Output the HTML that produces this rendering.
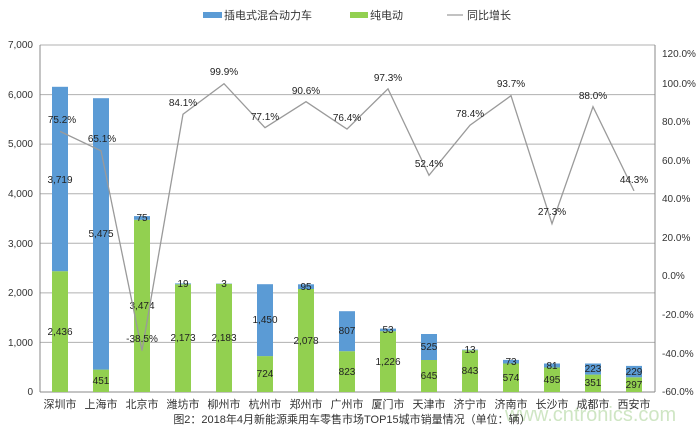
<!DOCTYPE html>
<html><head><meta charset="utf-8"><style>
body{margin:0;background:#fff}
svg{display:block;font-family:"Liberation Sans","Noto Sans CJK SC",sans-serif}
</style></head><body>
<svg width="700" height="428" viewBox="0 0 700 428" xmlns="http://www.w3.org/2000/svg">
<rect width="700" height="428" fill="#fff"/>
<!-- legend -->
<rect x="203" y="12" width="19" height="6" fill="#5b9bd5"/>
<text x="224" y="19" font-size="11" fill="#333">插电式混合动力车</text>
<rect x="350" y="12" width="18" height="6" fill="#92d050"/>
<text x="370" y="19" font-size="11" fill="#333">纯电动</text>
<line x1="447" y1="15" x2="463" y2="15" stroke="#999" stroke-width="1.2"/>
<text x="467" y="19" font-size="11" fill="#333">同比增长</text>
<!-- grid -->
<g stroke="#b0b0b0" stroke-width="1">
<line x1="40" y1="45" x2="655" y2="45"/>
<line x1="40" y1="94.6" x2="655" y2="94.6"/>
<line x1="40" y1="144.1" x2="655" y2="144.1"/>
<line x1="40" y1="193.7" x2="655" y2="193.7"/>
<line x1="40" y1="243.3" x2="655" y2="243.3"/>
<line x1="40" y1="292.9" x2="655" y2="292.9"/>
<line x1="40" y1="342.4" x2="655" y2="342.4"/>
</g>
<g stroke="#888" stroke-width="1">
<line x1="40" y1="45" x2="40" y2="392"/>
<line x1="655" y1="45" x2="655" y2="392"/>
<line x1="40" y1="392" x2="655" y2="392"/>
</g>
<!-- left axis labels -->
<g font-size="10" fill="#333" text-anchor="end">
<text x="33" y="48">7,000</text><text x="33" y="98">6,000</text><text x="33" y="147">5,000</text>
<text x="33" y="197">4,000</text><text x="33" y="247">3,000</text><text x="33" y="296">2,000</text>
<text x="33" y="346">1,000</text><text x="33" y="395">0</text>
</g>
<!-- right axis labels -->
<g font-size="10" fill="#333">
<text x="662" y="57">120.0%</text><text x="662" y="87">100.0%</text><text x="662" y="125">80.0%</text>
<text x="662" y="164">60.0%</text><text x="662" y="202">40.0%</text><text x="662" y="241">20.0%</text>
<text x="662" y="279">0.0%</text><text x="662" y="318">-20.0%</text><text x="662" y="357">-40.0%</text>
<text x="662" y="395">-60.0%</text>
</g>
<!-- bars -->
<g fill="#92d050">
<rect x="52" y="271.2" width="16" height="120.8"/>
<rect x="93" y="369.6" width="16" height="22.4"/>
<rect x="134" y="219.8" width="16" height="172.2"/>
<rect x="175" y="284.3" width="16" height="107.7"/>
<rect x="216" y="283.8" width="16" height="108.2"/>
<rect x="257" y="356.1" width="16" height="35.9"/>
<rect x="298" y="289" width="16" height="103"/>
<rect x="339" y="351.2" width="16" height="40.8"/>
<rect x="380" y="331.2" width="16" height="60.8"/>
<rect x="421" y="360" width="16" height="32"/>
<rect x="462" y="350.2" width="16" height="41.8"/>
<rect x="503" y="363.5" width="16" height="28.5"/>
<rect x="544" y="367.5" width="16" height="24.5"/>
<rect x="585" y="374.6" width="16" height="17.4"/>
<rect x="626" y="377.3" width="16" height="14.7"/>
</g>
<g fill="#5b9bd5">
<rect x="52" y="86.8" width="16" height="184.4"/>
<rect x="93" y="98.2" width="16" height="271.4"/>
<rect x="134" y="216.1" width="16" height="3.7"/>
<rect x="175" y="283.4" width="16" height="0.9"/>
<rect x="216" y="283.6" width="16" height="0.3"/>
<rect x="257" y="284.2" width="16" height="71.9"/>
<rect x="298" y="284.3" width="16" height="4.7"/>
<rect x="339" y="311.2" width="16" height="40"/>
<rect x="380" y="328.6" width="16" height="2.6"/>
<rect x="421" y="334" width="16" height="26"/>
<rect x="462" y="349.6" width="16" height="0.6"/>
<rect x="503" y="359.9" width="16" height="3.6"/>
<rect x="544" y="363.5" width="16" height="4"/>
<rect x="585" y="363.5" width="16" height="11.1"/>
<rect x="626" y="365.9" width="16" height="11.4"/>
</g>
<!-- bar labels -->
<g font-size="10" fill="#222" text-anchor="middle">
<text x="60" y="335">2,436</text><text x="60" y="183">3,719</text>
<text x="101" y="384">451</text><text x="101" y="237">5,475</text>
<text x="142" y="309">3,474</text><text x="142" y="221">75</text>
<text x="183" y="341">2,173</text><text x="183" y="287">19</text>
<text x="224" y="341">2,183</text><text x="224" y="287">3</text>
<text x="265" y="377">724</text><text x="265" y="323">1,450</text>
<text x="306" y="344">2,078</text><text x="306" y="290">95</text>
<text x="347" y="375">823</text><text x="347" y="334">807</text>
<text x="388" y="365">1,226</text><text x="388" y="333">53</text>
<text x="429" y="379">645</text><text x="429" y="350">525</text>
<text x="470" y="374">843</text><text x="470" y="353">13</text>
<text x="511" y="381">574</text><text x="511" y="365">73</text>
<text x="552" y="383">495</text><text x="552" y="369">81</text>
<text x="593" y="386">351</text><text x="593" y="372">223</text>
<text x="634" y="388">297</text><text x="634" y="375">229</text>
</g>
<!-- line -->
<polyline fill="none" stroke="#9a9a9a" stroke-width="1.3" points="60,131.4 101,150.8 142,350.6 183,114.2 224,83.7 265,127.7 306,101.7 347,129.1 388,88.8 429,175.3 470,125.2 511,95.7 552,223.7 593,106.7 634,190.9"/>
<g font-size="10" fill="#222" text-anchor="middle">
<text x="62" y="123">75.2%</text><text x="102" y="142">65.1%</text><text x="142" y="342">-38.5%</text>
<text x="183" y="106">84.1%</text><text x="224" y="75">99.9%</text><text x="265" y="120">77.1%</text>
<text x="306" y="94">90.6%</text><text x="347" y="121">76.4%</text><text x="388" y="81">97.3%</text>
<text x="429" y="167">52.4%</text><text x="470" y="117">78.4%</text><text x="511" y="87">93.7%</text>
<text x="552" y="215">27.3%</text><text x="593" y="99">88.0%</text><text x="634" y="183">44.3%</text>
</g>
<!-- categories -->
<g font-size="11" fill="#333" text-anchor="middle">
<text x="60" y="408">深圳市</text><text x="101" y="408">上海市</text><text x="142" y="408">北京市</text>
<text x="183" y="408">潍坊市</text><text x="224" y="408">柳州市</text><text x="265" y="408">杭州市</text>
<text x="306" y="408">郑州市</text><text x="347" y="408">广州市</text><text x="388" y="408">厦门市</text>
<text x="429" y="408">天津市</text><text x="470" y="408">济宁市</text><text x="511" y="408">济南市</text>
<text x="552" y="408">长沙市</text><text x="593" y="408">成都市</text><text x="634" y="408">西安市</text>
</g>
<text x="505" y="421" font-size="20" fill="#cfe6c4">www.cntronics.com</text>
<text x="352" y="423" font-size="11" fill="#333" text-anchor="middle">图2：2018年4月新能源乘用车零售市场TOP15城市销量情况（单位：辆）</text>
</svg>
</body></html>
